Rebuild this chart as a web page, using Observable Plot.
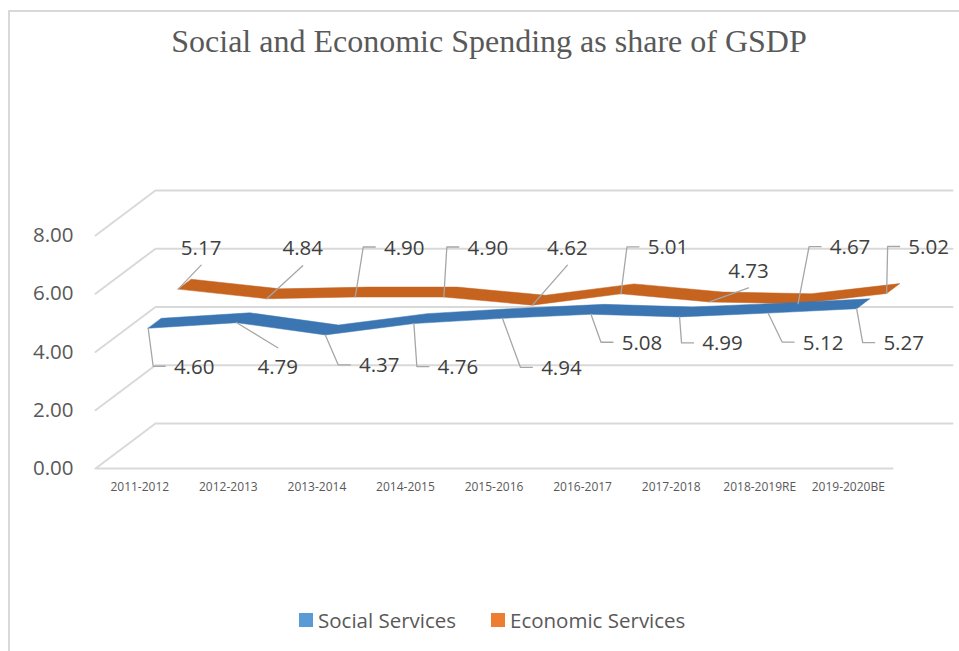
<!DOCTYPE html>
<html>
<head>
<meta charset="utf-8">
<script src="https://cdn.jsdelivr.net/npm/d3@7"></script>
<script src="https://cdn.jsdelivr.net/npm/@observablehq/plot@0.6"></script>
<style>
  html, body { margin: 0; padding: 0; background: #fff; overflow: hidden; width: 959px; height: 651px; }
  #page { position: relative; width: 959px; height: 651px; }
  #frame { position: absolute; left: 8px; top: 10px; width: 2000px; height: 2000px;
           border-left: 2px solid #d9d9d9; border-top: 2px solid #d9d9d9; pointer-events: none; }
  #title { position: relative; height: 80px; }
  #title span { position: absolute; left: 0; width: 978px; top: 25px; text-align: center;
                font-family: "Liberation Serif", "Times New Roman", serif; font-size: 32px;
                line-height: 32px; color: #595959; white-space: nowrap; }
  #chart { height: 510px; }
  #chart svg { display: block; }
  #legend { position: relative; height: 61px; font-family: "Open Sans", sans-serif; font-size: 20.5px; color: #595959; }
  .item { position: absolute; top: 16px; display: flex; align-items: center; line-height: 28px; white-space: nowrap; }
  .sw { width: 14px; height: 14px; margin-right: 5px; }
</style>
</head>
<body>
<div id="page">
  <div id="frame"></div>
  <div id="title"><span>Social and Economic Spending as share of GSDP</span></div>
  <div id="chart"></div>
  <div id="legend"></div>
</div>
<script>
// ---- data ----
const categories = ["2011-2012","2012-2013","2013-2014","2014-2015","2015-2016","2016-2017","2017-2018","2018-2019RE","2019-2020BE"];
const socialServices = [4.60, 4.79, 4.37, 4.76, 4.94, 5.08, 4.99, 5.12, 5.27];
const economicServices = [5.17, 4.84, 4.90, 4.90, 4.62, 5.01, 4.73, 4.67, 5.02];
const yTicks = [0, 2, 4, 6, 8];
const seriesNames = ["Social Services", "Economic Services"];

// ---- layout (pixel offsets of data labels relative to ribbon front edge) ----
const socialLabelLayout = [[46,39,"elbow"],[41,45,"diag"],[54,31,"elbow"],[44,44,"elbow"],[59,50,"elbow"],[51,29,"elbow"],[43,27,"elbow"],[55,30,"elbow"],[47,35,"elbow"]];
const economicLabelLayout = [[23,-41,"diag"],[36,-50,"diag"],[49,-49,"elbow"],[44,-49,"elbow"],[35,-57,"diag"],[47,-46,"elbow"],[39,-31,"diag"],[52,-56,"elbow"],[42,-46,"elbow"]];

const W = 959, H = 510, mL = 95, mR = 7, mT = 110, mB = 122;
const DX = 0.677, DY = 1.546; // depth offset in (category, value) units
const n = categories.length;
const xDom = [-0.5, n - 0.5 + DX], yDom = [0, 8 + DY];
const pxPerX = (W - mL - mR) / (xDom[1] - xDom[0]);
const pxPerY = (H - mT - mB) / (yDom[1] - yDom[0]);

const series = [
  {name: seriesNames[1], values: economicServices, d0: 0.64, d1: 0.86, color: "#c5631f", layout: economicLabelLayout},
  {name: seriesNames[0], values: socialServices, d0: 0.14, d1: 0.36, color: "#3b76b3", layout: socialLabelLayout}
];

// gridlines (walls of the 3D box)
const grid = [];
yTicks.forEach(v => {
  if (v === 0) grid.push({g: v, x: n - 0.5, y: 0});
  grid.push({g: v, x: -0.5, y: v});
  grid.push({g: v, x: -0.5 + DX, y: v + DY});
  grid.push({g: v, x: n - 0.5 + DX, y: v + DY});
});

// ribbons
const ribbons = [];
series.forEach(s => {
  s.values.forEach((v, i) => ribbons.push({s: s.name, x: i + s.d0 * DX, y: v + s.d0 * DY}));
  for (let i = n - 1; i >= 0; i--) ribbons.push({s: s.name, x: i + s.d1 * DX, y: s.values[i] + s.d1 * DY});
});

// labels and leader lines
const labels = [], leaders = [];
series.forEach(s => {
  s.values.forEach((v, i) => {
    const sx = i + s.d0 * DX, sy = v + s.d0 * DY;
    const [tx, ty, kind] = s.layout[i];
    const P = (ox, oy) => ({x: sx + ox / pxPerX, y: sy - oy / pxPerY});
    const c = P(tx, ty);
    labels.push({x: c.x, y: c.y, text: v.toFixed(2)});
    const id = s.name + i;
    const pts = kind === "elbow"
      ? [P(0, 0), P(tx - 41, ty - 1), P(tx - 29, ty - 1)]
      : [P(0, 0), P(tx, ty + (ty < 0 ? 17 : -20))];
    pts.forEach(p => leaders.push({id, x: p.x, y: p.y}));
  });
});

const font = "'Open Sans', sans-serif";
const plot = Plot.plot({
  width: W, height: H,
  marginLeft: mL, marginRight: mR, marginTop: mT, marginBottom: mB,
  x: {domain: xDom, axis: null},
  y: {domain: yDom, axis: null},
  style: {fontFamily: font, background: "transparent"},
  marks: [
    Plot.line(grid, {x: "x", y: "y", z: "g", stroke: "#d9d9d9", strokeWidth: 2}),
    Plot.text(yTicks, {x: -0.5, y: d => d, text: d => d.toFixed(2), textAnchor: "end", dx: -22, fontSize: 20.5, fill: "#595959"}),
    Plot.text(categories, {x: (d, i) => i, y: 0, text: d => d, dy: 19, fontSize: 12, fill: "#595959"}),
    Plot.line(ribbons.filter(d => d.s === seriesNames[1]), {x: "x", y: "y", fill: series[0].color, stroke: series[0].color, strokeWidth: 0.5, curve: "linear-closed"}),
    Plot.line(ribbons.filter(d => d.s === seriesNames[0]), {x: "x", y: "y", fill: series[1].color, stroke: series[1].color, strokeWidth: 0.5, curve: "linear-closed"}),
    Plot.line(leaders, {x: "x", y: "y", z: "id", stroke: "#a6a6a6", strokeWidth: 1.3}),
    Plot.text(labels, {x: "x", y: "y", text: "text", fontSize: 20.5, fill: "#404040"})
  ]
});
document.getElementById("chart").appendChild(plot);

// legend
const legend = document.getElementById("legend");
const legendItems = [
  {name: seriesNames[0], color: "#5b9bd5", left: 299},
  {name: seriesNames[1], color: "#ed7d31", left: 491}
];
legendItems.forEach(it => {
  const el = document.createElement("div");
  el.className = "item";
  el.style.left = it.left + "px";
  el.innerHTML = `<div class="sw" style="background:${it.color}"></div><span>${it.name}</span>`;
  legend.appendChild(el);
});
</script>
</body>
</html>
